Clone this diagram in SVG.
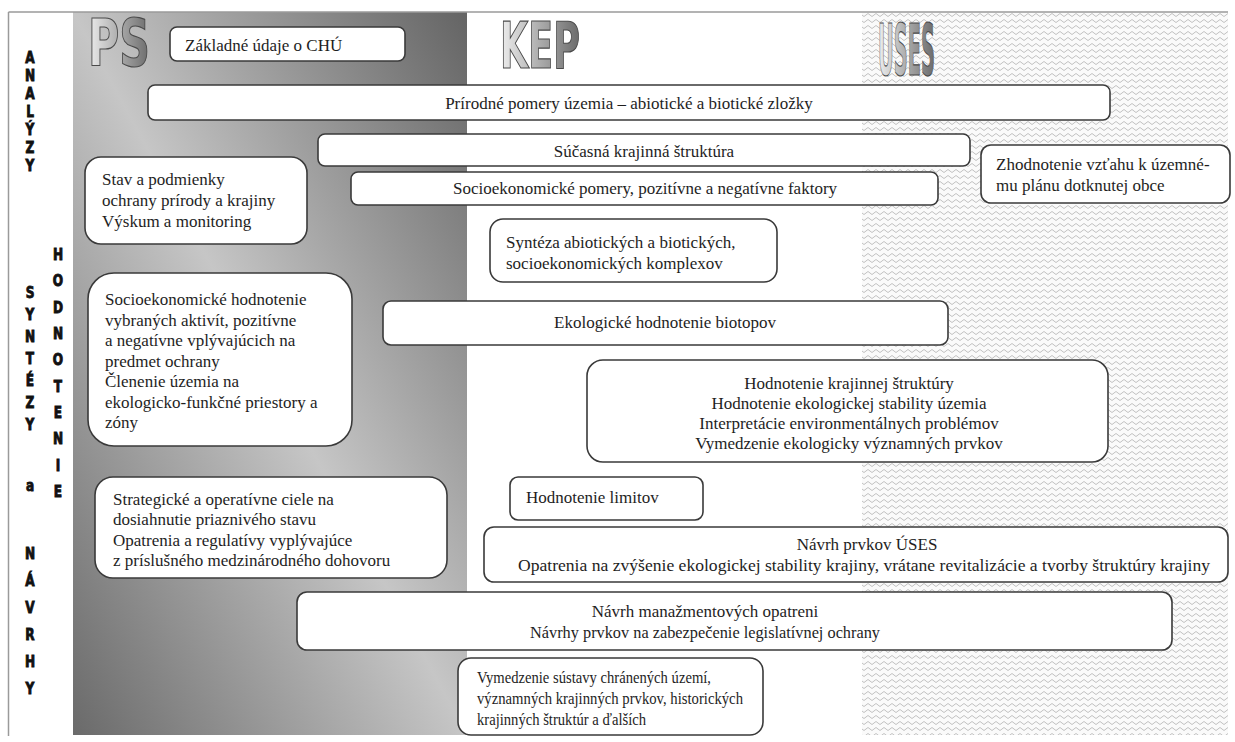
<svg xmlns="http://www.w3.org/2000/svg" width="1235" height="742" viewBox="0 0 1235 742">
<defs>
<linearGradient id="psGrad" x1="0" y1="1" x2="1" y2="0">
<stop offset="0" stop-color="#6a6a6a"/>
<stop offset="0.5" stop-color="#c6c6c6"/>
<stop offset="1" stop-color="#646464"/>
</linearGradient>
<pattern id="zig" width="8" height="6" patternUnits="userSpaceOnUse">
<rect width="8" height="6" fill="#fafafa"/>
<path d="M0,4.5 L4,1.5 L8,4.5" fill="none" stroke="#b9b9b9" stroke-width="0.9"/>
</pattern>
<linearGradient id="hdr" x1="0" y1="0" x2="1" y2="0">
<stop offset="0" stop-color="#eeeeee"/>
<stop offset="1" stop-color="#6a6a6a"/>
</linearGradient>
</defs>
<style>
.box{fill:#fff;stroke:#3a3a3a;stroke-width:1.6}
.t{font-family:"Liberation Serif","Times New Roman",serif;font-size:17px;fill:#1e1e1e}
.c{text-anchor:middle}
.v{font-family:"Liberation Sans Narrow","DejaVu Sans Condensed","Liberation Sans",sans-serif;font-weight:bold;font-size:15px;fill:#111;stroke:#111;stroke-width:0.8;text-anchor:middle}
.h{font-family:"Liberation Sans Narrow","DejaVu Sans Condensed",sans-serif;font-weight:bold;fill:url(#hdr);stroke:#4a4a4a;stroke-width:1.2}
</style>
<rect width="1235" height="742" fill="#fff"/>
<g id="background">
<rect x="73" y="12" width="394" height="723" fill="url(#psGrad)"/>
<rect x="467" y="12" width="395" height="723" fill="#fff"/>
<rect x="862" y="12" width="366" height="723" fill="url(#zig)"/>
<path d="M8.5,12 H1228 M8.5,12 V736" fill="none" stroke="#9a9a9a" stroke-width="1.5"/>
</g>
<g id="headers">
<text class="h" x="88" y="66" font-size="66" textLength="62" lengthAdjust="spacingAndGlyphs">PS</text>
<text class="h" x="500" y="68" font-size="64" textLength="80" lengthAdjust="spacingAndGlyphs">KEP</text>
<text class="h" x="878" y="75" font-size="72" textLength="57" lengthAdjust="spacingAndGlyphs">USES</text>
</g>
<g id="side-labels">
<g transform="translate(30,0) scale(0.9,1)">
<text class="v"><tspan x="0" y="63">A</tspan><tspan x="0" y="81">N</tspan><tspan x="0" y="99">A</tspan><tspan x="0" y="117">L</tspan><tspan x="0" y="135">Ý</tspan><tspan x="0" y="153">Z</tspan><tspan x="0" y="171">Y</tspan></text>
<text class="v"><tspan x="0" y="298">S</tspan><tspan x="0" y="320">Y</tspan><tspan x="0" y="342">N</tspan><tspan x="0" y="364">T</tspan><tspan x="0" y="386">É</tspan><tspan x="0" y="408">Z</tspan><tspan x="0" y="430">Y</tspan><tspan x="0" y="491">a</tspan></text>
<text class="v"><tspan x="0" y="559">N</tspan><tspan x="0" y="586">Á</tspan><tspan x="0" y="613">V</tspan><tspan x="0" y="640">R</tspan><tspan x="0" y="667">H</tspan><tspan x="0" y="694">Y</tspan></text>
</g>
<g transform="translate(58,0) scale(0.9,1)">
<text class="v"><tspan x="0" y="260">H</tspan><tspan x="0" y="286">O</tspan><tspan x="0" y="313">D</tspan><tspan x="0" y="339">N</tspan><tspan x="0" y="365">O</tspan><tspan x="0" y="392">T</tspan><tspan x="0" y="418">E</tspan><tspan x="0" y="444">N</tspan><tspan x="0" y="471">I</tspan><tspan x="0" y="497">E</tspan></text>
</g>
</g>
<g id="connectors"></g>
<g id="n-zakladne">
<rect class="box" x="170" y="27" width="235" height="34" rx="7"/>
<text class="t" x="185" y="51">Základné údaje o CHÚ</text>
</g>
<g id="n-prirodne">
<rect class="box" x="148" y="85" width="962" height="35" rx="7"/>
<text class="t c" x="629" y="109">Prírodné pomery územia – abiotické a biotické zložky</text>
</g>
<g id="n-sucasna">
<rect class="box" x="318" y="134" width="652" height="32" rx="7"/>
<text class="t c" x="644" y="157">Súčasná krajinná štruktúra</text>
</g>
<g id="n-socio-pomery">
<rect class="box" x="351" y="172" width="587" height="33" rx="7"/>
<text class="t c" x="645" y="194">Socioekonomické pomery, pozitívne a negatívne faktory</text>
</g>
<g id="n-zhodnotenie">
<rect class="box" x="981" y="145" width="249" height="58" rx="10"/>
<text class="t" x="996" y="170" font-size="17.5">Zhodnotenie vzťahu k územné-</text>
<text class="t" x="996" y="191" font-size="17.5">mu plánu dotknutej obce</text>
</g>
<g id="n-stav">
<rect class="box" x="85" y="157" width="222" height="87" rx="16"/>
<text class="t" x="102" y="185">Stav a podmienky</text>
<text class="t" x="102" y="206">ochrany prírody a krajiny</text>
<text class="t" x="102" y="227">Výskum a monitoring</text>
</g>
<g id="n-synteza">
<rect class="box" x="490" y="219" width="287" height="63" rx="13"/>
<text class="t" x="506" y="248">Syntéza abiotických a biotických,</text>
<text class="t" x="506" y="269">socioekonomických komplexov</text>
</g>
<g id="n-socio-hodnotenie">
<rect class="box" x="88" y="273" width="264" height="173" rx="26"/>
<text class="t" x="105" y="305">Socioekonomické hodnotenie</text>
<text class="t" x="105" y="326">vybraných aktivít, pozitívne</text>
<text class="t" x="105" y="346">a negatívne vplývajúcich na</text>
<text class="t" x="105" y="367">predmet ochrany</text>
<text class="t" x="105" y="387">Členenie územia na</text>
<text class="t" x="105" y="408">ekologicko-funkčné priestory a</text>
<text class="t" x="105" y="428">zóny</text>
</g>
<g id="n-ekologicke">
<rect class="box" x="383" y="301" width="565" height="44" rx="8"/>
<text class="t c" x="665" y="328">Ekologické hodnotenie biotopov</text>
</g>
<g id="n-hodnotenie-kraj">
<rect class="box" x="587" y="360" width="521" height="102" rx="16"/>
<text class="t c" x="849" y="389">Hodnotenie krajinnej štruktúry</text>
<text class="t c" x="849" y="409">Hodnotenie ekologickej stability územia</text>
<text class="t c" x="849" y="429">Interpretácie environmentálnych problémov</text>
<text class="t c" x="849" y="449">Vymedzenie ekologicky významných prvkov</text>
</g>
<g id="n-strategicke">
<rect class="box" x="95" y="477" width="352" height="101" rx="18"/>
<text class="t" x="113" y="505">Strategické a operatívne ciele na</text>
<text class="t" x="113" y="525">dosiahnutie priaznivého stavu</text>
<text class="t" x="113" y="546">Opatrenia a regulatívy vyplývajúce</text>
<text class="t" x="113" y="566">z príslušného medzinárodného dohovoru</text>
</g>
<g id="n-limity">
<rect class="box" x="510" y="477" width="193" height="43" rx="8"/>
<text class="t" x="526" y="503">Hodnotenie limitov</text>
</g>
<g id="n-uses">
<rect class="box" x="484" y="527" width="744" height="55" rx="10"/>
<text class="t c" x="867" y="550">Návrh prvkov ÚSES</text>
<text class="t c" x="864" y="571" textLength="692" lengthAdjust="spacingAndGlyphs">Opatrenia na zvýšenie ekologickej stability krajiny, vrátane revitalizácie a tvorby štruktúry krajiny</text>
</g>
<g id="n-manazment">
<rect class="box" x="297" y="592" width="875" height="58" rx="10"/>
<text class="t c" x="705" y="617">Návrh manažmentových opatreni</text>
<text class="t c" x="705" y="638" textLength="350" lengthAdjust="spacingAndGlyphs">Návrhy prvkov na zabezpečenie legislatívnej ochrany</text>
</g>
<g id="n-vymedzenie">
<rect class="box" x="458" y="658" width="305" height="77" rx="13"/>
<text class="t" x="477" y="683" textLength="234" lengthAdjust="spacingAndGlyphs">Vymedzenie sústavy chránených území,</text>
<text class="t" x="477" y="704" textLength="266" lengthAdjust="spacingAndGlyphs">významných krajinných prvkov, historických</text>
<text class="t" x="477" y="725" textLength="169" lengthAdjust="spacingAndGlyphs">krajinných štruktúr a ďalších</text>
</g>
</svg>
